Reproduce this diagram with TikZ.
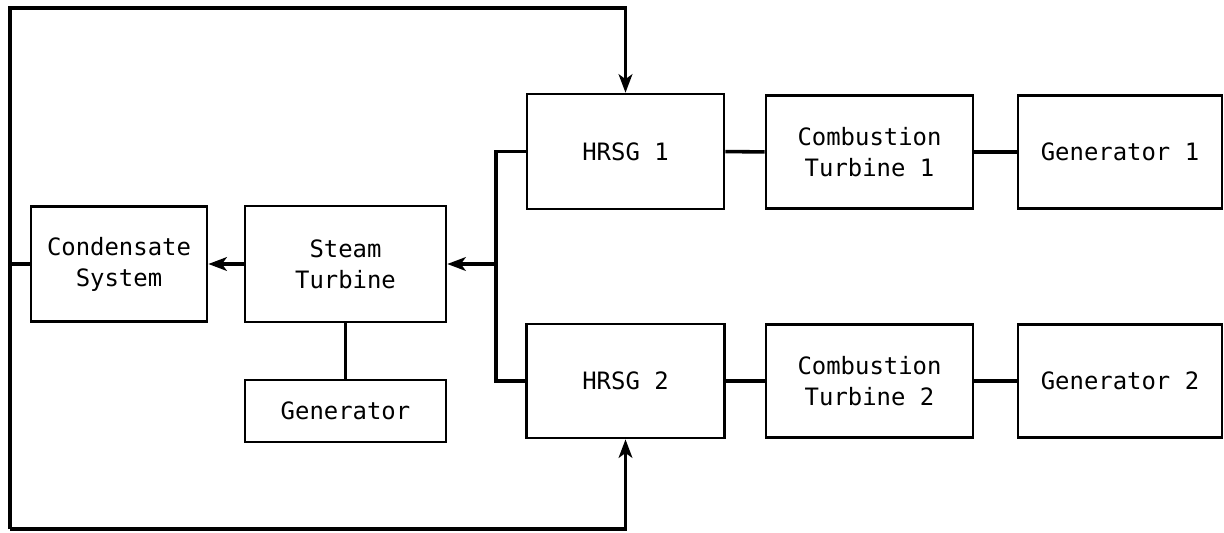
\documentclass[tikz,border=0pt]{standalone}
\usepackage{fontspec}
\setmonofont{DejaVu Sans Mono}
\usetikzlibrary{positioning,arrows.meta,calc}
\tikzset{
  flowarrow/.style={-{Stealth[length=4.6mm, width=3.4mm, inset=1.2mm]}, line width=2.5pt},
  plainlink/.style={line width=2.5pt},
  plantbox/.style={draw, line width=1.9pt, align=center, inner sep=0pt, font=\ttfamily\fontsize{17}{22}\selectfont},
}
\begin{document}
\begin{tikzpicture}[x=0.025cm, y=-0.025cm]
  \useasboundingbox (0,0) rectangle (1224,533);
  \node[plantbox, minimum width=4.4cm, minimum height=2.875cm] (cond) at (119,264) {Condensate\\System};
  \node[plantbox, minimum width=5.02cm, minimum height=2.9cm] (steam) at (345.5,264) {Steam\\Turbine};
  \node[plantbox, minimum width=5.02cm, minimum height=1.55cm] (gen) at (345.5,411) {Generator};
  \node[plantbox, minimum width=4.92cm, minimum height=2.87cm] (hrsg1) at (625.5,151.5) {HRSG 1};
  \node[plantbox, minimum width=5.17cm, minimum height=2.82cm] (ct1) at (869.5,152) {Combustion\\Turbine 1};
  \node[plantbox, minimum width=5.1cm, minimum height=2.82cm] (gen1) at (1120,152) {Generator 1};
  \node[plantbox, minimum width=4.95cm, minimum height=2.85cm] (hrsg2) at (625.5,381) {HRSG 2};
  \node[plantbox, minimum width=5.17cm, minimum height=2.82cm] (ct2) at (869.5,381) {Combustion\\Turbine 2};
  \node[plantbox, minimum width=5.1cm, minimum height=2.82cm] (gen2) at (1120,381) {Generator 2};
  \coordinate (split) at (496,264);
  \coordinate (loopt) at (10,8);
  \coordinate (loopb) at (10,529);
  \draw[plainlink] (hrsg1.west) -| (split) |- (hrsg2.west);
  \draw[flowarrow] (split) -- (steam.east);
  \draw[flowarrow] (steam.west) -- (cond.east);
  \draw[plainlink] (steam.south) -- (gen.north);
  \draw[plainlink] (hrsg1) -- (ct1);
  \draw[plainlink] (ct1) -- (gen1);
  \draw[plainlink] (hrsg2) -- (ct2);
  \draw[plainlink] (ct2) -- (gen2);
  \draw[plainlink] (cond.west) -- (cond.west -| loopt);
  \draw[flowarrow] (loopb) -- (loopt) -| (hrsg1.north);
  \draw[flowarrow] (loopb) -| (hrsg2.south);
\end{tikzpicture}
\end{document}
